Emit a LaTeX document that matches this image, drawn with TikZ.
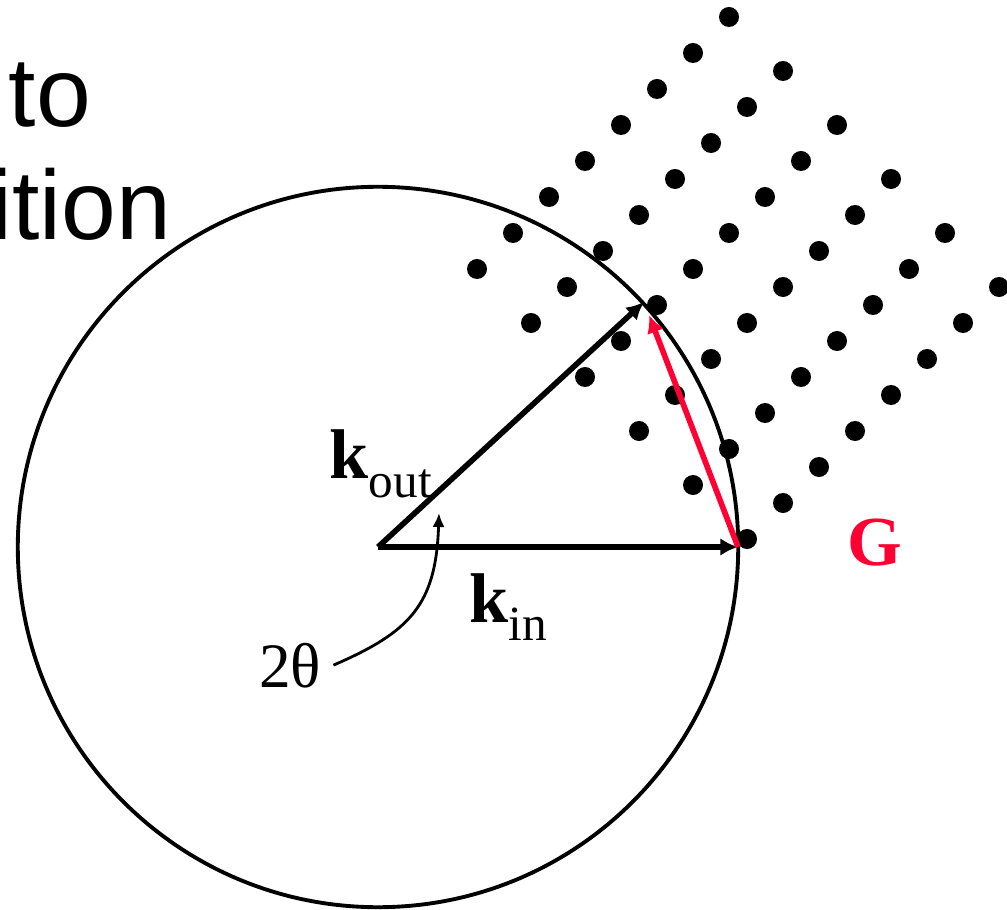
\documentclass[tikz,border=0pt]{standalone}
\usepackage{fontspec}
\setmainfont{Liberation Serif}
\newfontfamily\slidefont{Liberation Sans}
\usepackage{xcolor}
\usetikzlibrary{arrows.meta}
\definecolor{gred}{HTML}{FF0033}

\begin{document}
\begin{tikzpicture}[x=0.01cm,y=-0.01cm,>=Latex]
\tikzset{v/.style={-{Latex[length=5pt,width=5pt]},line width=1.6pt}, dot/.style={circle,fill=black,inner sep=0pt,minimum size=0.2cm}, lbl/.style={inner sep=0pt,anchor=base west,font=\bfseries\fontsize{20}{24}\selectfont}, head/.style={inner sep=0pt,anchor=base west,font=\slidefont\fontsize{28}{34}\selectfont}}
\useasboundingbox (0,0) rectangle (1007,910);
\node[head] (to) at (8,127) {to};
\node[head] (ition) at (-10,240) {ition};
\foreach \i in {0,...,5} \foreach \j in {0,...,7} \node[dot] (d\i\j) at ({729+54*\i-36*\j},{17+54*\i+36*\j}) {};
\coordinate (O) at (378,547);\coordinate (Kin) at (738,547);\coordinate (Kout) at (644,302);
\draw[line width=1.1pt] (O) circle[radius=3.6cm];
\draw[v] (O)--(Kin);\draw[v] (O)--(Kout);\draw[v,gred,shorten >=4pt] (Kin)--(Kout);
\node[lbl] (kout) at (329,478) {k\raisebox{-0.19cm}{\normalfont\fontsize{14}{14}\selectfont out}};
\node[lbl] (kin) at (469,622) {k\raisebox{-0.18cm}{\normalfont\fontsize{14}{14}\selectfont in}};
\node[lbl,text=gred] (G) at (847,565) {G};
\node[font=\fontsize{18}{22}\selectfont,anchor=base] (ang) at (290,687) {2θ};
\coordinate (angtip) at (439,513);
\draw[-{Latex[length=4pt,width=3.5pt]},line width=0.8pt] (ang.east) .. controls (410,632) and (436,605) .. (angtip);
\end{tikzpicture}
\end{document}
